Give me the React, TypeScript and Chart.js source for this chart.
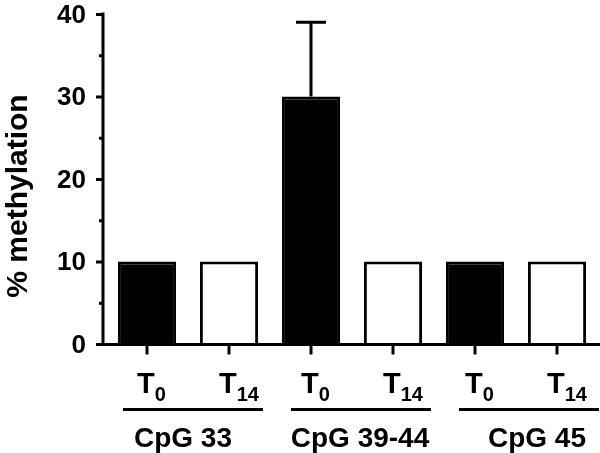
import React, { useEffect, useRef } from "react";
import { Chart, registerables } from "chart.js";

Chart.register(...registerables);

const timeBase = ["T", "T", "T", "T", "T", "T"];
const timeSubs = ["0", "14", "0", "14", "0", "14"];
const categories = ["T0", "T14", "T0", "T14", "T0", "T14"];
const methylation = [10, 10, 30, 10, 10, 10];
const errorUp = [0, 0, 9, 0, 0, 0];
const groupLabels = ["CpG 33", "CpG 39-44", "CpG 45"];
const yTicksMajor = [0, 10, 20, 30, 40];
const yTicksMinor = [5, 15, 25, 35];
const yTitle = "% methylation";

const FONT = '"Liberation Sans", Arial, Helvetica, sans-serif';

const overlay = {
  id: "overlay",
  afterDatasetsDraw(chart: any) {
    const ctx = chart.ctx;
    const x = chart.scales.x;
    const y = chart.scales.y;
    ctx.save();
    ctx.strokeStyle = "#000";
    ctx.fillStyle = "#000";
    ctx.lineWidth = 3;
    ctx.lineCap = "butt";
    // error bars
    methylation.forEach((v, i) => {
      if (!errorUp[i]) return;
      const cx = x.getPixelForValue(i);
      const y0 = y.getPixelForValue(v);
      const y1 = y.getPixelForValue(v + errorUp[i]);
      ctx.beginPath();
      ctx.moveTo(cx, y0);
      ctx.lineTo(cx, y1);
      ctx.moveTo(cx - 15, y1);
      ctx.lineTo(cx + 15, y1);
      ctx.stroke();
    });
    const axisX = chart.chartArea.left - 3;
    const axisY = y.getPixelForValue(0) + 0.5;
    // y axis line
    ctx.beginPath();
    ctx.moveTo(axisX, y.getPixelForValue(40) - 1.5);
    ctx.lineTo(axisX, axisY + 1.5);
    ctx.stroke();
    // x axis line
    ctx.beginPath();
    ctx.moveTo(axisX, axisY);
    ctx.lineTo(chart.width, axisY);
    ctx.stroke();
    // y ticks + labels
    ctx.font = `bold 26px ${FONT}`;
    ctx.textAlign = "right";
    ctx.textBaseline = "middle";
    yTicksMajor.forEach((t) => {
      const py = y.getPixelForValue(t) + 0.5;
      ctx.beginPath();
      ctx.moveTo(axisX - 7, py);
      ctx.lineTo(axisX, py);
      ctx.stroke();
      ctx.fillText(String(t), 86, py + 1);
    });
    yTicksMinor.forEach((t) => {
      const py = y.getPixelForValue(t) + 0.5;
      ctx.beginPath();
      ctx.moveTo(axisX - 4, py);
      ctx.lineTo(axisX, py);
      ctx.stroke();
    });
    // x ticks
    categories.forEach((_, i) => {
      const cx = x.getPixelForValue(i);
      ctx.beginPath();
      ctx.moveTo(cx, axisY);
      ctx.lineTo(cx, axisY + 10);
      ctx.stroke();
    });
    // x labels with subscripts
    ctx.textBaseline = "alphabetic";
    ctx.textAlign = "left";
    categories.forEach((_, i) => {
      const cx = x.getPixelForValue(i);
      ctx.font = `bold 29px ${FONT}`;
      const tx = cx - 10;
      ctx.fillText(timeBase[i], tx, 393);
      const w = ctx.measureText(timeBase[i]).width;
      ctx.font = `bold 20px ${FONT}`;
      ctx.fillText(timeSubs[i], tx + w, 401);
    });
    // group lines and labels
    groupLabels.forEach((g, gi) => {
      const c1 = x.getPixelForValue(gi * 2);
      const c2 = x.getPixelForValue(gi * 2 + 1);
      const x1 = c1 - 24 + gi * 4;
      const x2 = Math.min(c2 + 34 + gi * 4, chart.width);
      ctx.beginPath();
      ctx.moveTo(x1, 409.5);
      ctx.lineTo(x2, 409.5);
      ctx.stroke();
      ctx.font = `bold 28px ${FONT}`;
      ctx.textAlign = "center";
      ctx.fillText(g, (c1 + c2) / 2 - 5 + gi * 13, 447);
      ctx.textAlign = "left";
    });
    // y title
    ctx.save();
    ctx.translate(27, 196);
    ctx.rotate(-Math.PI / 2);
    ctx.textAlign = "center";
    ctx.textBaseline = "alphabetic";
    ctx.font = `bold 30px ${FONT}`;
    ctx.fillText(yTitle, 0, 0);
    ctx.restore();
    ctx.restore();
  },
};

export default function App() {
  const ref = useRef<HTMLCanvasElement>(null);
  useEffect(() => {
    if (!ref.current) return;
    const chart = new Chart(ref.current, {
      type: "bar",
      data: {
        labels: categories,
        datasets: [
          {
            data: methylation,
            backgroundColor: timeSubs.map((s) => (s === "0" ? "#000" : "#fff")),
            borderColor: "#000",
            borderWidth: 3,
            barPercentage: 0.71,
            categoryPercentage: 1,
          },
        ],
      },
      options: {
        animation: false,
        responsive: true,
        maintainAspectRatio: false,
        layout: { padding: { top: 14, right: 2, left: 0, bottom: 0 } },
        plugins: { legend: { display: false }, tooltip: { enabled: false } },
        scales: {
          x: {
            offset: true,
            grid: { display: false, drawTicks: false },
            border: { display: false },
            ticks: { display: false },
            afterFit: (s: any) => {
              s.height = 109;
            },
          },
          y: {
            min: 0,
            max: 40,
            grid: { display: false, drawTicks: false },
            border: { display: false },
            ticks: { display: false, stepSize: 10 },
            afterFit: (s: any) => {
              s.width = 106;
            },
          },
        },
      },
      plugins: [overlay],
    });
    return () => chart.destroy();
  }, []);
  return (
    <div style={{ position: "absolute", left: 0, top: 0, width: 600, height: 453, background: "#fff" }}>
      <canvas ref={ref} />
    </div>
  );
}
